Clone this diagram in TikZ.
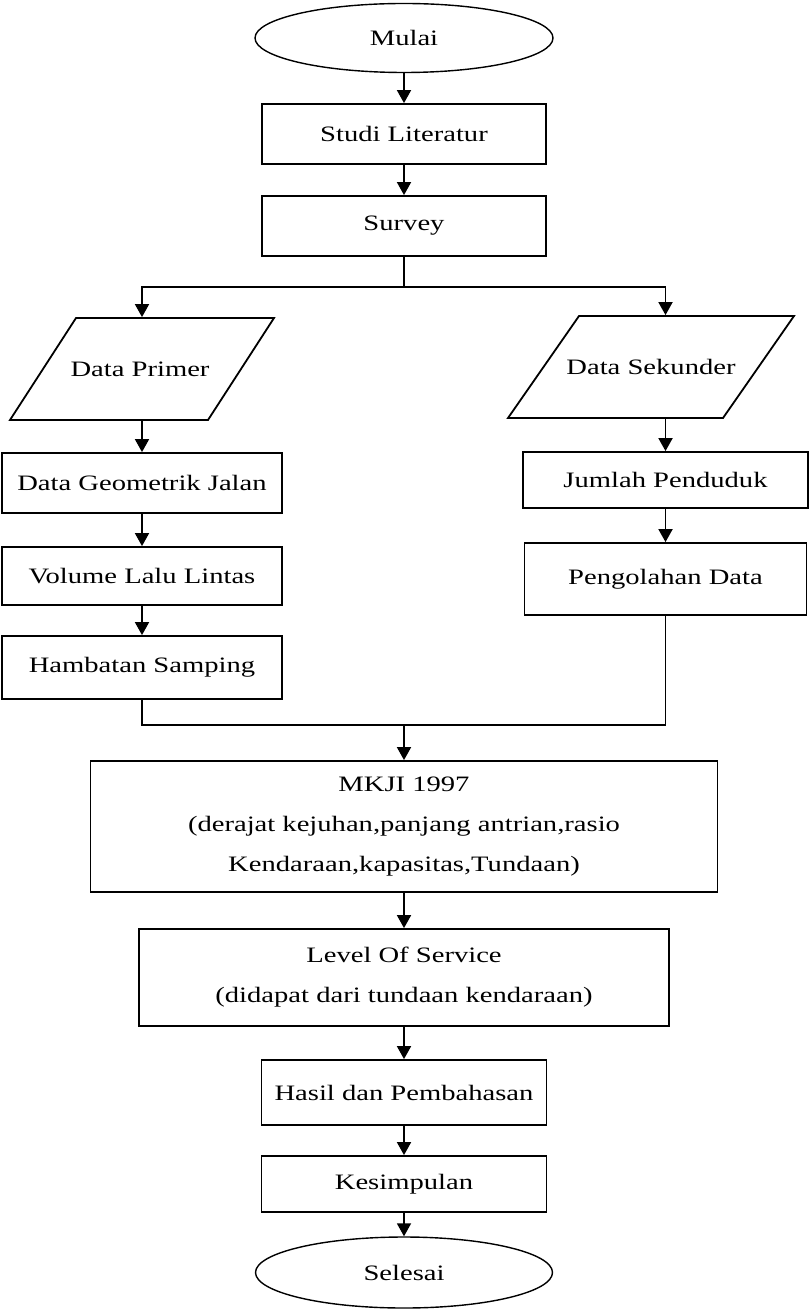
\documentclass[tikz,border=0pt]{standalone}
\usepackage{fontspec}
\setmainfont{Liberation Serif}[FakeStretch=1.3]
\usetikzlibrary{shapes.geometric, arrows.meta}
\tikzstyle{proses}=[draw, rectangle, align=center, inner sep=2pt]
\tikzstyle{terminal}=[draw, ellipse, line width=0.7pt, inner sep=0pt]
\tikzstyle{dataio}=[rectangle, inner sep=2pt, minimum height=51pt]

\begin{document}
\begin{tikzpicture}[x=0.5pt, y=-0.5pt, line width=0.9pt, >={Triangle[width=7pt,length=6.5pt]}, font=\fontsize{11}{20}\selectfont]
	\useasboundingbox (0,0) rectangle (809,1309);
	% alur utama
	\node[terminal, minimum width=149pt, minimum height=34.5pt] (mulai) at (404,38) {Mulai};
	\node[proses, minimum width=142pt, minimum height=30pt] (studi) at (404,134) {Studi Literatur};
	\node[proses, minimum width=142pt, minimum height=30pt] (survey) at (404,226) {Survey};
	% cabang kiri
	\node[dataio, minimum width=100pt] (primer) at (140,369) {Data Primer};
	\draw (76,318) -- (274,318) -- (208,420) -- (10,420) -- cycle;
	\node[proses, minimum width=140pt, minimum height=30pt] (geo) at (142,483) {Data Geometrik Jalan};
	\node[proses, minimum width=140pt, minimum height=29pt] (volume) at (142,576) {Volume Lalu Lintas};
	\node[proses, minimum width=140pt, minimum height=31.5pt] (hambatan) at (142,667.5) {Hambatan Samping};
	% cabang kanan
	\node[dataio, minimum width=108pt] (sekunder) at (651,367) {Data Sekunder};
	\draw (579,316) -- (794,316) -- (723,418) -- (508,418) -- cycle;
	\node[proses, minimum width=142.5pt, minimum height=28pt] (jumlah) at (665.5,480) {Jumlah Penduduk};
	\node[proses, minimum width=141pt, minimum height=36pt] (olah) at (665.5,579) {Pengolahan Data};
	% analisis
	\node[proses, minimum width=313.5pt, minimum height=65.5pt] (mkji) at (404,826.5) {MKJI 1997\\(derajat kejuhan,panjang antrian,rasio\\Kendaraan,kapasitas,Tundaan)};
	\node[proses, minimum width=265pt, minimum height=48.5pt] (los) at (404,977.5) {Level Of Service\\(didapat dari tundaan kendaraan)};
	\node[proses, minimum width=142.5pt, minimum height=32.5pt] (hasil) at (404,1092.5) {Hasil dan Pembahasan};
	\node[proses, minimum width=142.5pt, minimum height=28pt] (kesimpulan) at (404,1184) {Kesimpulan};
	\node[terminal, minimum width=148.5pt, minimum height=35.5pt] (selesai) at (404,1272.5) {Selesai};
	\coordinate (cabang) at (404,287);
	\coordinate (gabung) at (404,725);

	\draw [->] (mulai) -- (studi);
	\draw [->] (studi) -- (survey);
	\draw (survey) -- (cabang);
	\draw [->] (cabang) -| (primer.north -| geo.north);
	\draw [->] (cabang) -| (sekunder.north -| jumlah.north);
	\draw [->] (primer.south -| geo.north) -- (geo);
	\draw [->] (geo) -- (volume);
	\draw [->] (volume) -- (hambatan);
	\draw [->] (sekunder.south -| jumlah.north) -- (jumlah);
	\draw [->] (jumlah) -- (olah);
	\draw (hambatan) |- (gabung) -| (olah);
	\draw [->] (gabung) -- (mkji);
	\draw [->] (mkji) -- (los);
	\draw [->] (los) -- (hasil);
	\draw [->] (hasil) -- (kesimpulan);
	\draw [->] (kesimpulan) -- (selesai);
\end{tikzpicture}
\end{document}
